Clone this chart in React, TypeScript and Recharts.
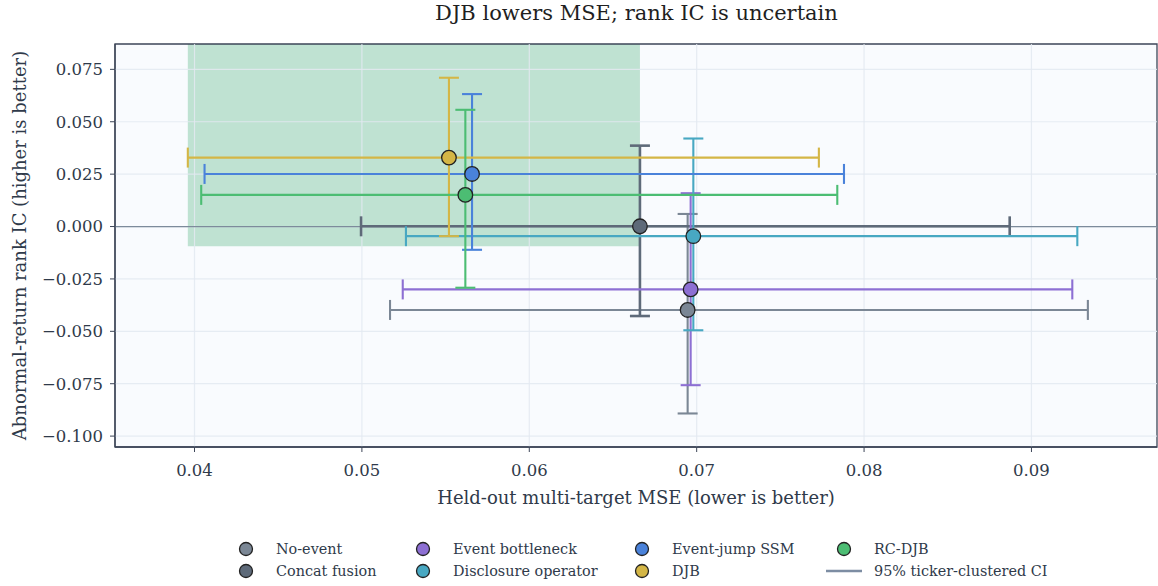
import {
  ErrorBar,
  ReferenceArea,
  ReferenceLine,
  Scatter,
  ScatterChart,
  XAxis,
  YAxis,
} from "recharts";

const MODELS = [
  "No-event",
  "Concat fusion",
  "Event bottleneck",
  "Disclosure operator",
  "Event-jump SSM",
  "DJB",
  "RC-DJB",
];
const COLORS = ["#7b8795", "#5e6a79", "#8d6fd3", "#48a8c2", "#4a82da", "#d4b646", "#4cbd73"];
const MSE = [0.06946, 0.06661, 0.06964, 0.0698, 0.05658, 0.0552, 0.05618];
const MSE_LO = [0.05168, 0.04995, 0.05244, 0.05263, 0.0406, 0.0396, 0.0404];
const MSE_HI = [0.09337, 0.0887, 0.09244, 0.09274, 0.0788, 0.0773, 0.0784];
const IC = [-0.0398, 0.0001, -0.03, -0.0046, 0.0251, 0.0329, 0.0151];
const IC_LO = [-0.0892, -0.0427, -0.0757, -0.0495, -0.0111, -0.0046, -0.0292];
const IC_HI = [0.006, 0.0386, 0.0159, 0.042, 0.0632, 0.071, 0.0557];

const X_TICKS = [0.04, 0.05, 0.06, 0.07, 0.08, 0.09];
const Y_TICKS = [-0.1, -0.075, -0.05, -0.025, 0, 0.025, 0.05, 0.075];
const X_DOMAIN: [number, number] = [0.03525, 0.0975];
const Y_DOMAIN: [number, number] = [-0.1052, 0.0871];

// "better" region: left of the concat-fusion MSE, above the shaded IC floor
const SHADE_X: [number, number] = [0.0396, 0.06661];
const SHADE_Y: [number, number] = [-0.0094, 0.0871];

const FONT = "'DejaVu Serif', 'Liberation Serif', serif";
const TEXT = "#2f3a4a";
const GRID = "#e3e9f1";

const series = MODELS.map((name, i) => ({
  name,
  color: COLORS[i],
  data: [
    {
      mse: MSE[i],
      ic: IC[i],
      xErr: [MSE[i] - MSE_LO[i], MSE_HI[i] - MSE[i]],
      yErr: [IC[i] - IC_LO[i], IC_HI[i] - IC[i]],
    },
  ],
}));

const fmtY = (v: number) => (v < 0 ? "\u2212" + Math.abs(v).toFixed(3) : v.toFixed(3));

function Dot(props: any) {
  const { cx, cy, fill } = props;
  if (cx == null || cy == null) return <g />;
  return <circle cx={cx} cy={cy} r={7.3} fill={fill} stroke="#222" strokeWidth={1.3} />;
}

const LEGEND_ORDER = [0, 2, 4, 6, 1, 3, 5, -1];

function ChartLegend() {
  return (
    <div
      style={{
        position: "absolute",
        left: 228,
        top: 540,
        display: "grid",
        gridTemplateColumns: "177px 219px 202px auto",
        rowGap: 4,
        fontFamily: FONT,
        fontSize: 14.4,
        color: TEXT,
      }}
    >
      {LEGEND_ORDER.map((idx) => (
        <div key={idx} style={{ display: "flex", alignItems: "center", height: 18 }}>
          <svg width={48} height={18} style={{ flex: "none" }}>
            {idx >= 0 ? (
              <circle cx={18} cy={9} r={6.5} fill={COLORS[idx]} stroke="#222" strokeWidth={1.3} />
            ) : (
              <line x1={0} x2={36} y1={9} y2={9} stroke="#7d8da3" strokeWidth={2.5} />
            )}
          </svg>
          <span style={{ whiteSpace: "nowrap" }}>
            {idx >= 0 ? MODELS[idx] : "95% ticker-clustered CI"}
          </span>
        </div>
      ))}
    </div>
  );
}

export default function App() {
  return (
    <div
      style={{
        position: "absolute",
        left: 0,
        top: 0,
        width: 1158,
        height: 586,
        background: "#fff",
        fontFamily: FONT,
      }}
    >
      <div
        style={{
          position: "absolute",
          left: 115,
          width: 1043,
          top: 1,
          textAlign: "center",
          fontSize: 21,
          color: "#1f1f1f",
        }}
      >
        DJB lowers MSE; rank IC is uncertain
      </div>
      <ScatterChart
        width={1158}
        height={586}
        margin={{ top: 44, right: 1, bottom: 79, left: 0 }}
        style={{ position: "absolute", left: 0, top: 0 }}
      >
        <ReferenceArea
          x1={X_DOMAIN[0]}
          x2={X_DOMAIN[1]}
          y1={Y_DOMAIN[0]}
          y2={Y_DOMAIN[1]}
          fill="#f9fbfe"
          fillOpacity={1}
          stroke="none"
        />
        <ReferenceArea
          x1={SHADE_X[0]}
          x2={SHADE_X[1]}
          y1={SHADE_Y[0]}
          y2={SHADE_Y[1]}
          fill="#bfe2d2"
          fillOpacity={1}
          stroke="none"
        />
        {X_TICKS.map((t) => (
          <ReferenceLine key={"gx" + t} x={t} stroke={GRID} strokeWidth={1.2} strokeOpacity={0.85} />
        ))}
        {Y_TICKS.map((t) => (
          <ReferenceLine key={"gy" + t} y={t} stroke={GRID} strokeWidth={1.2} strokeOpacity={0.85} />
        ))}
        <ReferenceLine y={0} stroke="#7d8b9b" strokeWidth={1.3} />
        <XAxis
          type="number"
          dataKey="mse"
          domain={X_DOMAIN}
          ticks={X_TICKS}
          allowDataOverflow
          tickFormatter={(v: number) => v.toFixed(2)}
          height={60}
          tickSize={5}
          tickMargin={12}
          stroke="#3d4658"
          axisLine={{ stroke: "#3d4658", strokeWidth: 1.3 }}
          tick={{ fill: TEXT, fontSize: 16.5, fontFamily: FONT }}
          label={{
            value: "Held-out multi-target MSE (lower is better)",
            position: "insideBottom",
            offset: 3,
            style: { fill: TEXT, fontSize: 18, fontFamily: FONT },
          }}
        />
        <YAxis
          type="number"
          dataKey="ic"
          domain={Y_DOMAIN}
          ticks={Y_TICKS}
          allowDataOverflow
          tickFormatter={fmtY}
          width={115}
          tickSize={5}
          tickMargin={7}
          stroke="#3d4658"
          axisLine={{ stroke: "#3d4658", strokeWidth: 1.3 }}
          tick={{ fill: TEXT, fontSize: 16.5, fontFamily: FONT }}
          label={{
            value: "Abnormal-return rank IC (higher is better)",
            angle: -90,
            position: "insideLeft",
            offset: 20,
            style: { fill: TEXT, fontSize: 18, fontFamily: FONT, textAnchor: "middle" },
          }}
        />
        {series.map((s) => (
          <Scatter
            key={s.name}
            name={s.name}
            data={s.data}
            fill={s.color}
            shape={<Dot />}
            isAnimationActive={false}
          >
            <ErrorBar
              dataKey="xErr"
              direction="x"
              stroke={s.color}
              strokeWidth={s.name === "Concat fusion" ? 2.6 : 2.1}
              width={10}
            />
            <ErrorBar
              dataKey="yErr"
              direction="y"
              stroke={s.color}
              strokeWidth={s.name === "Concat fusion" ? 2.6 : 2.1}
              width={10}
            />
          </Scatter>
        ))}
        <ReferenceArea
          x1={X_DOMAIN[0]}
          x2={X_DOMAIN[1]}
          y1={Y_DOMAIN[0]}
          y2={Y_DOMAIN[1]}
          fill="none"
          stroke="#3d4658"
          strokeWidth={1.3}
        />
      </ScatterChart>
      <ChartLegend />
    </div>
  );
}
